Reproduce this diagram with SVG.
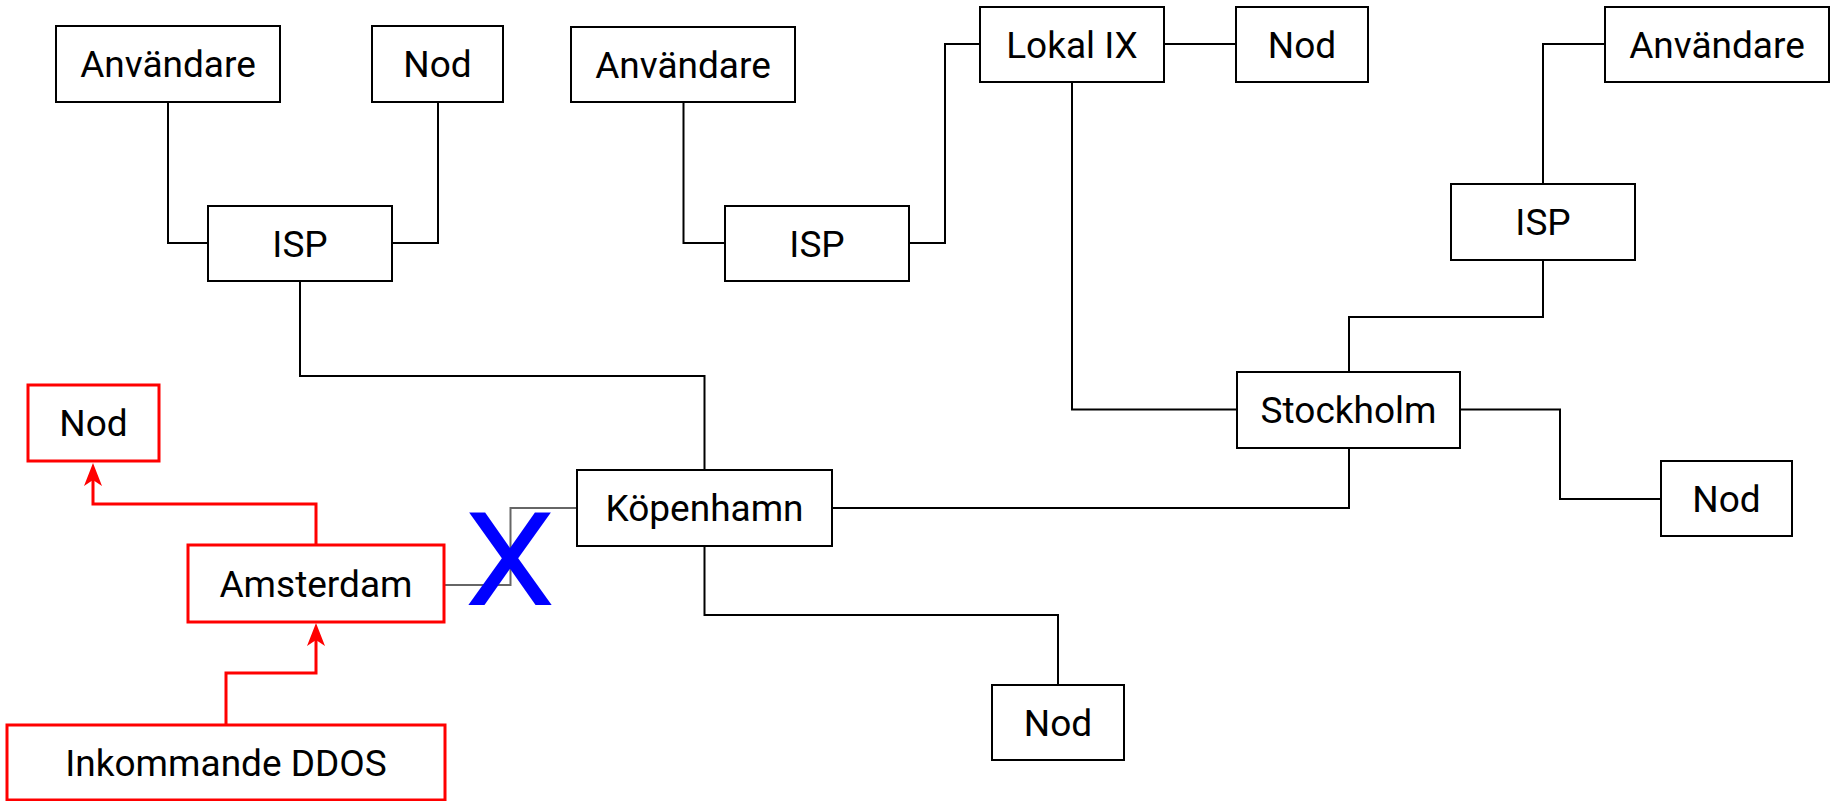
<svg xmlns="http://www.w3.org/2000/svg" width="1835" height="801" viewBox="0 0 1835 801">
  <style>
    .box { fill: #ffffff; stroke: #000000; stroke-width: 2; }
    .hot { fill: #ffffff; stroke: #ff0000; stroke-width: 3; }
    .lbl { font-family: Roboto, "Liberation Sans", sans-serif; font-size: 37px; fill: #000000; text-anchor: middle; }
    .wire { fill: none; stroke: #000000; stroke-width: 2; }
    .cut { fill: none; stroke: #666666; stroke-width: 2; }
    .attack { fill: none; stroke: #ff0000; stroke-width: 3; marker-end: url(#arr); }
    .mark { font-family: Roboto, "Liberation Sans", sans-serif; font-size: 130px; fill: #0000ff; text-anchor: middle; }
  </style>
  <defs>
    <marker id="arr" viewBox="-10 -10 27 20" refX="0" refY="0" markerWidth="27" markerHeight="20" markerUnits="userSpaceOnUse" orient="auto">
      <path d="M15,0 L-8,-9 L-2,0 L-8,9 Z" fill="#ff0000"/>
    </marker>
  </defs>
  <rect width="1835" height="801" fill="#ffffff"/>

  <g id="connectors">
    <path class="wire" d="M168,102 V243 H208"/>
    <path class="wire" d="M438,102 V243 H392"/>
    <path class="wire" d="M300,281 V376 H704.5 V470"/>
    <path class="wire" d="M683.5,102 V243 H725"/>
    <path class="wire" d="M909,243 H945 V44 H980"/>
    <path class="wire" d="M1164,44 H1236"/>
    <path class="wire" d="M1072,82 V409.5 H1237"/>
    <path class="wire" d="M1605,44 H1543 V184"/>
    <path class="wire" d="M1543,260 V317 H1349 V372"/>
    <path class="wire" d="M1460,409.5 H1560 V499 H1661"/>
    <path class="wire" d="M832,508 H1349 V448"/>
    <path class="wire" d="M704.5,546 V615 H1058 V685"/>
    <path class="cut" d="M444,585 H510.5 V508 H577"/>
    <path class="attack" d="M316,545 V504 H93 V478"/>
    <path class="attack" d="M226,725 V673 H316 V638"/>
  </g>

  <g id="anvandare-1"><rect class="box" x="56" y="26" width="224" height="76"/><text class="lbl" x="168" y="77">Användare</text></g>
  <g id="nod-1"><rect class="box" x="372" y="26" width="131" height="76"/><text class="lbl" x="437.5" y="77">Nod</text></g>
  <g id="isp-1"><rect class="box" x="208" y="206" width="184" height="75"/><text class="lbl" x="300" y="256.5">ISP</text></g>
  <g id="anvandare-2"><rect class="box" x="571" y="27" width="224" height="75"/><text class="lbl" x="683" y="77.5">Användare</text></g>
  <g id="isp-2"><rect class="box" x="725" y="206" width="184" height="75"/><text class="lbl" x="817" y="256.5">ISP</text></g>
  <g id="lokal-ix"><rect class="box" x="980" y="7" width="184" height="75"/><text class="lbl" x="1072" y="57.5">Lokal IX</text></g>
  <g id="nod-2"><rect class="box" x="1236" y="7" width="132" height="75"/><text class="lbl" x="1302" y="57.5">Nod</text></g>
  <g id="anvandare-3"><rect class="box" x="1605" y="7" width="224" height="75"/><text class="lbl" x="1717" y="57.5">Användare</text></g>
  <g id="isp-3"><rect class="box" x="1451" y="184" width="184" height="76"/><text class="lbl" x="1543" y="235">ISP</text></g>
  <g id="stockholm"><rect class="box" x="1237" y="372" width="223" height="76"/><text class="lbl" x="1348.5" y="423">Stockholm</text></g>
  <g id="nod-3"><rect class="box" x="1661" y="461" width="131" height="75"/><text class="lbl" x="1726.5" y="511.5">Nod</text></g>
  <g id="kopenhamn"><rect class="box" x="577" y="470" width="255" height="76"/><text class="lbl" x="704.5" y="521">Köpenhamn</text></g>
  <g id="nod-4"><rect class="box" x="992" y="685" width="132" height="75"/><text class="lbl" x="1058" y="735.5">Nod</text></g>
  <g id="nod-red"><rect class="hot" x="28" y="385" width="131" height="76"/><text class="lbl" x="93.5" y="436">Nod</text></g>
  <g id="amsterdam"><rect class="hot" x="188" y="545" width="256" height="77"/><text class="lbl" x="316" y="596.5">Amsterdam</text></g>
  <g id="ddos"><rect class="hot" x="7" y="725" width="438" height="75"/><text class="lbl" x="226" y="775.5">Inkommande DDOS</text></g>

  <!-- blocked link marker, widened glyph -->
  <text class="mark" transform="translate(510,605) scale(1.12,1)" x="0" y="0">X</text>
</svg>
